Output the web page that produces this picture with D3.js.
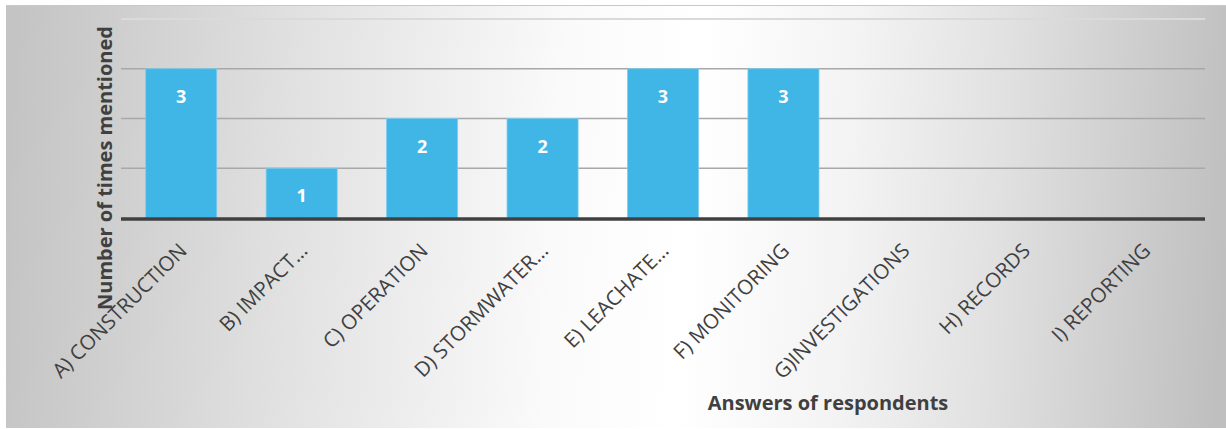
<!DOCTYPE html>
<html>
<head>
<meta charset="utf-8">
<script src="https://cdn.jsdelivr.net/npm/d3@7"></script>
<style>
  html, body { margin: 0; padding: 0; background: #ffffff; }
  svg { display: block; }
</style>
</head>
<body>
<svg id="chart" width="1226" height="429"></svg>
<script>
// Survey answers and how often each was mentioned
const categories = [
  "A) CONSTRUCTION", "B) IMPACT\u2026", "C) OPERATION", "D) STORMWATER\u2026",
  "E) LEACHATE\u2026", "F) MONITORING", "G)INVESTIGATIONS", "H) RECORDS", "I) REPORTING"
];
const counts = [3, 1, 2, 2, 3, 3, 0, 0, 0];
const yTicks = [0, 1, 2, 3, 4];

const svg = d3.select("#chart");
const W = 1226, H = 429;

// Background panel: grey at both sides, fading to white in the middle
const defs = svg.append("defs");
const grad = defs.append("linearGradient")
  .attr("id", "bg")
  .attr("gradientUnits", "userSpaceOnUse")
  .attr("x1", 6).attr("y1", 180).attr("x2", W).attr("y2", 260);
[
  [0.00, "#c4c4c4"],
  [0.24, "#e2e2e2"],
  [0.45, "#fafafa"],
  [0.56, "#ffffff"],
  [0.69, "#f3f3f3"],
  [0.81, "#e1e1e1"],
  [1.00, "#bfbfbf"]
].forEach(([o, c]) => grad.append("stop").attr("offset", o).attr("stop-color", c));

svg.append("rect")
  .attr("x", 6).attr("y", 5).attr("width", W - 6).attr("height", H - 6)
  .attr("fill", "url(#bg)");
svg.append("line")
  .attr("x1", 6).attr("x2", W).attr("y1", 5.5).attr("y2", 5.5)
  .attr("stroke", "#c8c8c8").attr("stroke-width", 1);

const margin = { left: 121, right: 21, top: 19, bottom: 211 };
const x = d3.scaleBand()
  .domain(categories)
  .range([margin.left, W - margin.right])
  .paddingInner(0.41).paddingOuter(0.205);
const y = d3.scaleLinear()
  .domain([0, 4])
  .range([H - margin.bottom, margin.top]);

// Horizontal gridlines
svg.append("g")
  .selectAll("line")
  .data(yTicks.filter(d => d > 0))
  .join("line")
  .attr("x1", margin.left).attr("x2", W - margin.right)
  .attr("y1", d => y(d)).attr("y2", d => y(d))
  .attr("stroke", d => d === 4 ? "#dadada" : "#a8a8a8")
  .attr("stroke-width", d => d === 4 ? 1.8 : 1.3);

const barData = categories.map((c, i) => ({ c, v: counts[i] })).filter(d => d.v > 0);

// Bars
svg.append("g")
  .selectAll("rect")
  .data(barData)
  .join("rect")
  .attr("x", d => x(d.c))
  .attr("y", d => y(d.v))
  .attr("width", x.bandwidth())
  .attr("height", d => y(0) - y(d.v))
  .attr("fill", "#3fb6e6")
  .attr("stroke", "#7fcdef")
  .attr("stroke-width", 0.8);

// Value labels inside the bars
svg.append("g")
  .selectAll("text")
  .data(barData)
  .join("text")
  .attr("x", d => x(d.c) + x.bandwidth() / 2)
  .attr("y", d => y(d.v) + 34)
  .attr("text-anchor", "middle")
  .attr("font-family", "'Open Sans', sans-serif")
  .attr("font-weight", "bold")
  .attr("font-size", 18)
  .attr("fill", "#ffffff")
  .text(d => d.v);

// Category axis
const xAxis = svg.append("g")
  .attr("transform", `translate(0,${y(0)})`)
  .call(d3.axisBottom(x).tickSize(0).tickPadding(0));
xAxis.select(".domain").remove();
svg.append("line")
  .attr("x1", margin.left).attr("x2", W - margin.right)
  .attr("y1", y(0) + 1).attr("y2", y(0) + 1)
  .attr("stroke", "#404040").attr("stroke-width", 3.5);
xAxis.selectAll("text")
  .attr("font-family", "'Open Sans', sans-serif")
  .attr("font-size", 20.5)
  .attr("fill", "#404040")
  .attr("text-anchor", "end")
  .attr("y", 0)
  .attr("dy", 0)
  .attr("transform", "translate(7,34) rotate(-45)");

// Axis titles
svg.append("text")
  .attr("transform", `translate(112,168) rotate(-90)`)
  .attr("text-anchor", "middle")
  .attr("font-family", "'Open Sans', sans-serif")
  .attr("font-weight", "bold")
  .attr("font-size", 20)
  .attr("fill", "#404040")
  .text("Number of times mentioned");

svg.append("text")
  .attr("x", 828).attr("y", 410)
  .attr("text-anchor", "middle")
  .attr("font-family", "'Open Sans', sans-serif")
  .attr("font-weight", "bold")
  .attr("font-size", 20)
  .attr("fill", "#404040")
  .text("Answers of respondents");
</script>
</body>
</html>
